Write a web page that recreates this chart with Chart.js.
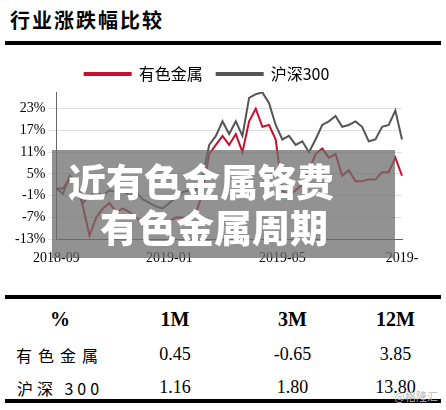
<!DOCTYPE html>
<html>
<head>
<meta charset="utf-8">
<script src="https://cdn.jsdelivr.net/npm/chart.js@4"></script>
<style>
    body { margin: 0; width: 446px; height: 410px; background: #fff; position: relative; overflow: hidden; font-family: "Liberation Serif", "Noto Sans CJK SC", serif; }
    #title { position: absolute; left: 10px; top: 5px; font-size: 20px; font-weight: bold; font-family: "Noto Sans CJK SC"; letter-spacing: 2px; }
    .rule { position: absolute; left: 5px; width: 436px; height: 4px; background: #000; }
    #chartBox { position: absolute; left: 0; top: 52px; width: 446px; height: 218px; }
    #banner { position: absolute; left: 52px; top: 150px; width: 343px; height: 108px; background: rgba(110,110,110,0.75); }
    .bannerText { position: absolute; color: #fff; font-family: "Noto Sans CJK SC"; font-weight: 900; font-size: 38px; line-height: 44px; white-space: nowrap; }
    table { position: absolute; left: 5px; top: 300px; width: 436px; border-collapse: collapse; font-size: 18px; table-layout: fixed; }
    td { text-align: center; height: 33px; padding: 0; }
    th { height: 36px; font-size: 20px; }
</style>
</head>
<body>
<div id="title">行业涨跌幅比较</div>
<div class="rule" style="top:41px"></div>
<div id="chartBox"><canvas id="myChart"></canvas></div>
<div id="banner">
    <div class="bannerText" style="left:16px;top:8px">近有色金属铬费</div>
    <div class="bannerText" style="left:48px;top:54px">有色金属周期</div>
</div>
<div class="rule" style="top:295px"></div>
<table>
    <colgroup><col style="width:110px"><col style="width:120px"><col style="width:115px"><col style="width:91px"></colgroup>
    <tr><th>%</th><th>1M</th><th>3M</th><th>12M</th></tr>
    <tr><td style="letter-spacing:6px;font-family:'Noto Sans CJK SC';font-size:16px">有色金属</td><td>0.45</td><td>-0.65</td><td>3.85</td></tr>
    <tr><td style="letter-spacing:4px;font-family:'Noto Sans CJK SC';font-size:16px">沪深 300</td><td>1.16</td><td>1.80</td><td>13.80</td></tr>
</table>
<div class="rule" style="top:399px"></div>
<div style="position:absolute;right:8px;top:388px;font-size:11px;color:#bbb;font-family:'Noto Sans CJK SC'">@格隆汇</div>
<script>
// Weekly points, 2018-09 to 2019-09
const weeks = [];
for (let i = 0; i < 53; i++) weeks.push(i);
const tickLabels = { 0: '2018-09', 17: '2019-01', 34: '2019-05', 52: '2019-' };

const metals = [1, 1, 3.5, 2, -4, -12, -7, -4.5, -3, -5.5, -4.5, -5.5, -7, -8.5, -8, -9.5, -8.5, -8, -7, -7, -8, -6,
    0, 10.5, 13, 15.5, 13, 16, 11, 19.5, 23, 18, 18.5, 14.5, 0.5, -1, 0.5, 2, 6, 10.5, 12, 9.5, 10.5, 4.5, 6, 3, 3,
    3.5, 3.5, 5.5, 5.5, 9.5, 4.5];
const hs300 = [1, -0.5, 4.5, 3, -3, -1, 0, -1, 0.5, 0, 0.5, -1, 0, -2, -3, -4, -4.5, -3, -1.5, 0, 0.5, 0.5,
    4.5, 13, 15.5, 19.5, 16, 19.5, 15.5, 26, 27, 27.5, 24.5, 18.5, 14.5, 15.5, 13, 14, 11, 14.5, 18.5, 19.5, 21, 18,
    18.5, 19.5, 18, 14, 14.5, 18, 18.5, 22.5, 14.5];
const yTicks = [-13, -7, -1, 5, 11, 17, 23];

const ctx = document.getElementById('myChart').getContext('2d');
new Chart(ctx, {
    type: 'line',
    data: {
        labels: weeks,
        datasets: [
            { label: '有色金属', data: metals, borderColor: '#c8102e', backgroundColor: '#c8102e', borderWidth: 2, pointRadius: 0, tension: 0 },
            { label: '沪深300', data: hs300, borderColor: '#555555', backgroundColor: '#555555', borderWidth: 2, pointRadius: 0, tension: 0 }
        ]
    },
    options: {
        animation: false,
        responsive: true,
        maintainAspectRatio: false,
        layout: { padding: { left: 12, right: 44, top: 0, bottom: 0 } },
        plugins: {
            legend: {
                labels: { boxWidth: 46, boxHeight: 2, color: '#000', font: { size: 16, family: 'Noto Sans CJK SC' }, padding: 14 }
            },
            tooltip: { enabled: false }
        },
        scales: {
            x: {
                grid: { display: false },
                border: { color: '#666' },
                ticks: {
                    autoSkip: false, maxRotation: 0, color: '#000',
                    font: { size: 14, family: '"Liberation Serif", serif' },
                    callback: (v) => tickLabels[v] || ''
                }
            },
            y: {
                min: -13, max: 27.6,
                afterBuildTicks: (axis) => { axis.ticks = yTicks.map((v) => ({ value: v })); },
                grid: { color: '#e0e0e0' },
                border: { color: '#666' },
                ticks: { color: '#000', font: { size: 14, family: '"Liberation Serif", serif' }, callback: (v) => v + '%' }
            }
        }
    }
});
</script>
</body>
</html>
